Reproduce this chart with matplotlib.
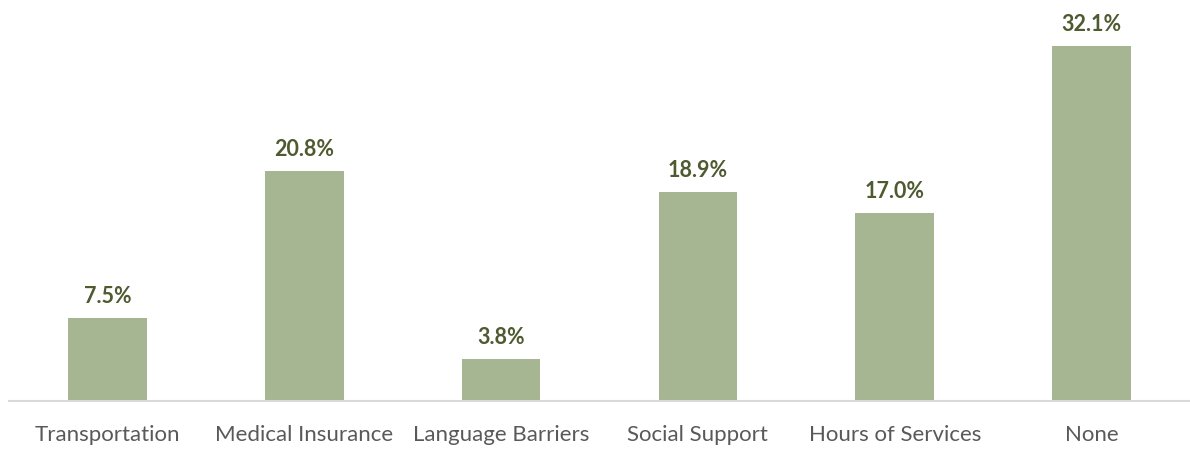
import matplotlib
matplotlib.use("Agg")
import matplotlib.pyplot as plt

categories = ["Transportation", "Medical Insurance", "Language Barriers",
              "Social Support", "Hours of Services", "None"]
values = [7.5, 20.8, 3.8, 18.9, 17.0, 32.1]

bar_color = "#A6B592"
label_color = "#4E5A2F"
tick_color = "#595959"

plt.rcParams["font.family"] = ["Lato", "DejaVu Sans"]

fig = plt.figure(figsize=(11.9, 4.49), dpi=100)
ax = fig.add_axes([9 / 1190, 48 / 449, 1 - 9 / 1190, 401 / 449])

x = range(len(categories))
bars = ax.bar(x, values, width=0.4, color=bar_color, zorder=2)

for xi, v in zip(x, values):
    ax.annotate(f"{v:.1f}%", (xi, v), xytext=(0, 8), textcoords="offset points",
                ha="center", va="bottom", fontsize=15.5, fontweight="bold",
                color=label_color)

ax.set_xlim(-0.5, len(categories) - 0.5)
ax.set_ylim(0, 36.3)
ax.set_xticks(list(x))
ax.set_xticklabels(categories, fontsize=16, color=tick_color)
ax.tick_params(axis="x", length=0, pad=17)
ax.set_yticks([])
for side in ["top", "left", "right"]:
    ax.spines[side].set_visible(False)
ax.spines["bottom"].set_color("#D9D9D9")
ax.spines["bottom"].set_linewidth(1.5)

fig.savefig("out.png", dpi=100)
